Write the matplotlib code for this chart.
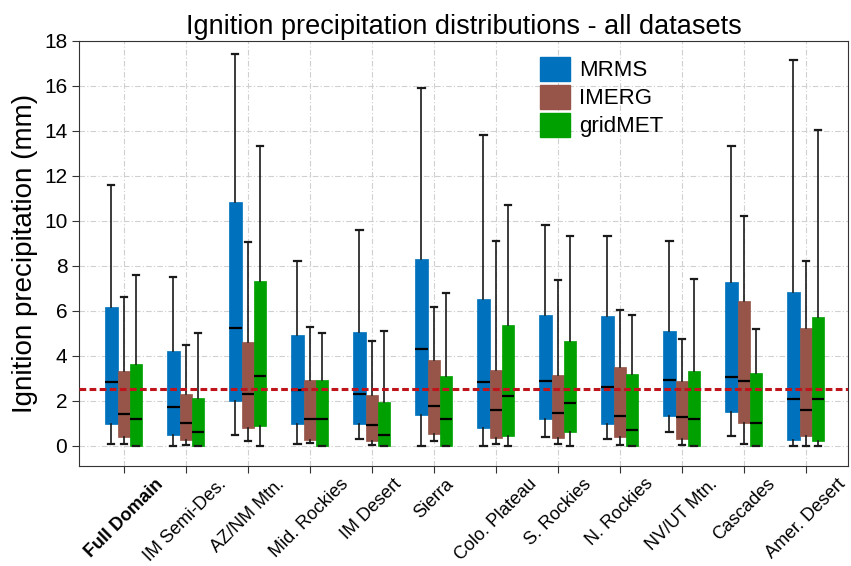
import matplotlib
matplotlib.use("Agg")
import matplotlib.pyplot as plt
from matplotlib.patches import Patch
import numpy as np

plt.rcParams['font.family'] = ['Liberation Sans', 'DejaVu Sans']

regions = ["Full Domain", "IM Semi-Des.", "AZ/NM Mtn.", "Mid. Rockies", "IM Desert",
           "Sierra", "Colo. Plateau", "S. Rockies", "N. Rockies", "NV/UT Mtn.",
           "Cascades", "Amer. Desert"]
datasets = ["MRMS", "IMERG", "gridMET"]
colors = ["#0072BD", "#965548", "#00A000"]

# per dataset: whisker low, q1, median, q3, whisker high (mm)
mrms_lo  = [0.09, 0.00, 0.49, 0.09, 0.30, 0.00, 0.00, 0.40, 0.30, 0.61, 0.41, 0.00]
mrms_q1  = [0.98, 0.46, 1.97, 0.98, 0.98, 1.38, 0.79, 1.19, 0.98, 1.30, 1.51, 0.27]
mrms_med = [2.81, 1.70, 5.21, 2.49, 2.30, 4.30, 2.81, 2.89, 2.61, 2.93, 3.05, 2.06]
mrms_q3  = [6.15, 4.19, 10.83, 4.92, 5.07, 8.31, 6.52, 5.81, 5.78, 5.11, 7.27, 6.81]
mrms_hi  = [11.60, 7.50, 17.42, 8.22, 9.60, 15.90, 13.80, 9.79, 9.30, 9.11, 13.30, 17.13]

imerg_lo  = [0.07, 0.03, 0.22, 0.10, 0.04, 0.19, 0.07, 0.09, 0.03, 0.04, 0.07, 0.00]
imerg_q1  = [0.37, 0.25, 0.80, 0.25, 0.22, 0.53, 0.34, 0.34, 0.40, 0.31, 1.02, 0.41]
imerg_med = [1.39, 0.99, 2.31, 1.20, 0.92, 1.78, 1.60, 1.44, 1.33, 1.27, 2.87, 1.56]
imerg_q3  = [3.30, 2.31, 4.59, 2.93, 2.24, 3.79, 3.35, 3.16, 3.50, 2.87, 6.43, 5.24]
imerg_hi  = [6.59, 4.49, 9.04, 5.29, 4.64, 6.16, 9.11, 7.36, 6.04, 4.76, 10.22, 8.22]

gm_lo  = [0.00, 0.00, 0.00, 0.00, 0.00, 0.00, 0.00, 0.00, 0.00, 0.00, 0.00, 0.00]
gm_q1  = [0.00, 0.00, 0.86, 0.00, 0.00, 0.00, 0.41, 0.59, 0.00, 0.00, 0.00, 0.22]
gm_med = [1.20, 0.59, 3.08, 1.20, 0.47, 1.20, 2.19, 1.91, 0.71, 1.16, 0.99, 2.09]
gm_q3  = [3.63, 2.12, 7.32, 2.90, 1.93, 3.08, 5.35, 4.67, 3.17, 3.30, 3.23, 5.73]
gm_hi  = [7.60, 5.00, 13.30, 5.00, 5.11, 6.79, 10.71, 9.30, 5.81, 7.42, 5.20, 14.03]

threshold = 2.5

all_stats = [
    (mrms_lo, mrms_q1, mrms_med, mrms_q3, mrms_hi),
    (imerg_lo, imerg_q1, imerg_med, imerg_q3, imerg_hi),
    (gm_lo, gm_q1, gm_med, gm_q3, gm_hi),
]

fig = plt.figure(figsize=(8.51, 5.66), dpi=100)
ax = fig.add_axes([0.093, 0.177, 0.9035, 0.751])

ax.grid(True, color="#d0d0d0", linestyle=(0, (5, 2, 1, 2)), linewidth=0.8, zorder=0)
ax.set_axisbelow(True)

x = np.arange(len(regions))
w = 0.2
offsets = [-w, 0.0, w]
for k, (lo, q1, med, q3, hi) in enumerate(all_stats):
    stats = [dict(whislo=lo[i], q1=q1[i], med=med[i], q3=q3[i], whishi=hi[i], fliers=[])
             for i in range(len(regions))]
    ax.bxp(stats, positions=x + offsets[k], widths=w, patch_artist=True,
           showfliers=False, manage_ticks=False,
           boxprops=dict(facecolor=colors[k], edgecolor=colors[k], linewidth=0.5),
           medianprops=dict(color="black", linewidth=1.6),
           whiskerprops=dict(color="#1a1a1a", linewidth=1.2),
           capprops=dict(color="#1a1a1a", linewidth=1.6))

ax.axhline(threshold, color="#C0141C", linewidth=2.2, linestyle=(0, (2.2, 1.1)), zorder=5)

ax.set_xlim(-0.72, 11.68)
ax.set_ylim(-0.9, 18)
ax.set_yticks(np.arange(0, 19, 2))
ax.set_xticks(x)
ax.set_xticklabels(regions, rotation=45, ha="center", fontsize=13)
ax.get_xticklabels()[0].set_fontweight("bold")
ax.tick_params(axis="x", pad=2)
ax.tick_params(axis="y", labelsize=15)
ax.tick_params(direction="out", length=5, color="#333333")
for s in ax.spines.values():
    s.set_color("#333333")

ax.set_ylabel("Ignition precipitation (mm)", fontsize=20, labelpad=4)
ax.set_title("Ignition precipitation distributions - all datasets", fontsize=19.5, pad=5)

handles = [Patch(facecolor=c, edgecolor=c) for c in colors]
ax.legend(handles, datasets, loc="upper left", bbox_to_anchor=(0.6, 0.962),
          frameon=False, fontsize=16, borderaxespad=0, borderpad=0,
          handlelength=1.35, handleheight=1.3, labelspacing=0.15, handletextpad=0.4)

fig.savefig("out.png", dpi=100)
